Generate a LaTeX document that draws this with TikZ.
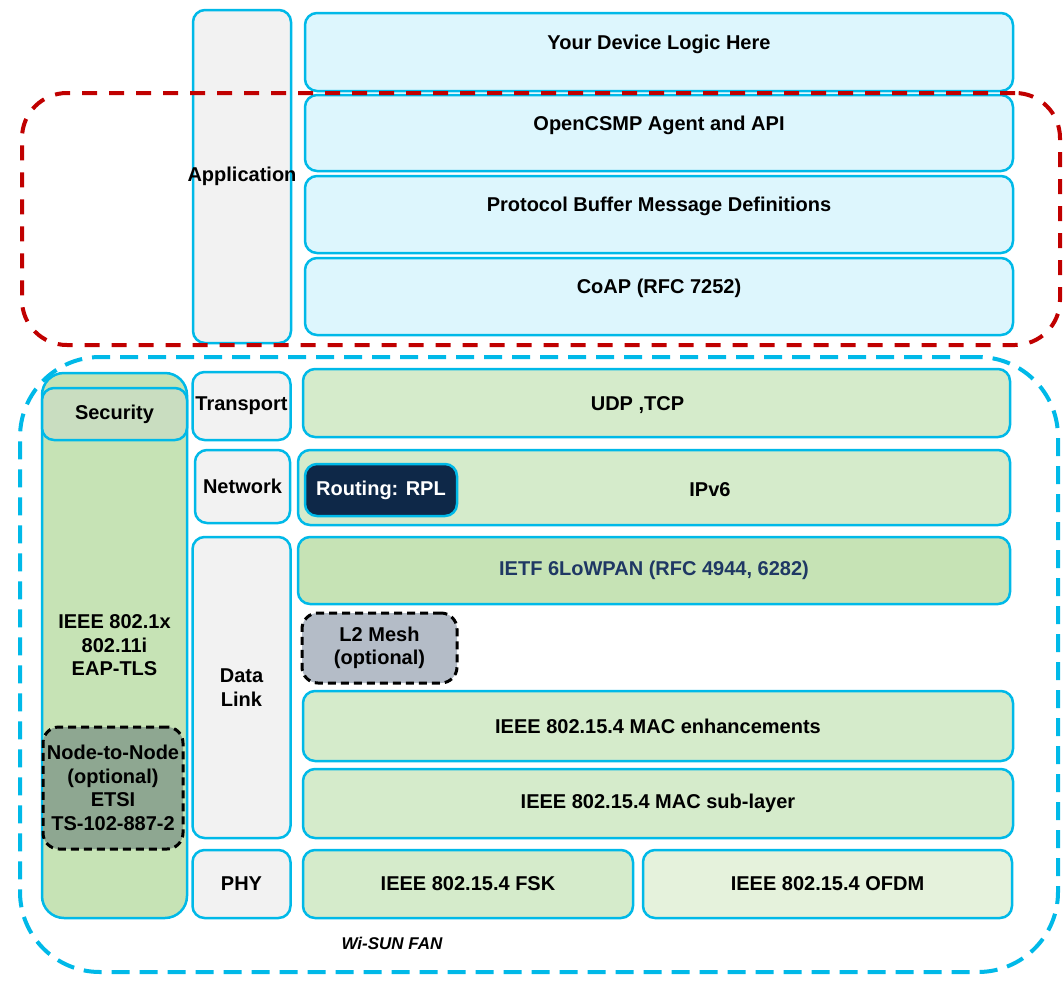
\documentclass[tikz,border=0pt]{standalone}
\usepackage{fontspec}
\setmainfont{Liberation Sans}

\definecolor{wsblue}{RGB}{0,185,232}
\definecolor{wsred}{RGB}{192,0,0}
\definecolor{wsgrey}{RGB}{242,242,242}
\definecolor{wsapp}{RGB}{221,246,253}
\definecolor{wsgreen}{RGB}{213,235,203}
\definecolor{wsgreenB}{RGB}{198,227,181}
\definecolor{wslight}{RGB}{229,242,220}
\definecolor{wssec}{RGB}{201,221,192}
\definecolor{wsnavy}{RGB}{14,40,72}
\definecolor{wstext}{RGB}{31,56,100}
\definecolor{wsmesh}{RGB}{180,188,199}
\definecolor{wsnode}{RGB}{142,167,145}

\tikzset{
  txt/.style={font=\fontsize{20}{23.5}\selectfont\bfseries, align=center},
  layer/.style={txt, draw=wsblue, line width=2.5pt, rounded corners=12pt, inner sep=0pt},
  optbox/.style={txt, draw=black, line width=3pt, dash pattern=on 8pt off 5pt,
    rounded corners=16pt, inner sep=0pt},
  frame/.style={line width=4pt, rounded corners=#1, inner sep=0pt},
}

\begin{document}
\begin{tikzpicture}[x=1pt,y=-1pt]
\useasboundingbox (0,0) rectangle (1063,980);

% layer names
\begin{scope}[every node/.style={layer, fill=wsgrey, minimum width=98pt}]
  \node[minimum height=333pt, label={[txt]center:Application}] (app) at (242,176.5) {};
  \node[minimum height=68pt]  (transport) at (241.5,406)   {Transport};
  \node[minimum height=73pt, minimum width=95pt] (network) at (242.5,486.5) {Network};
  \node[minimum height=301pt] (datalink)  at (241.5,687.5) {Data\\Link};
  \node[minimum height=68pt]  (phy)       at (241.5,884)   {PHY};
\end{scope}

% application stack
\begin{scope}[every node/.style={layer, fill=wsapp, minimum width=708pt}]
  \node[minimum height=78pt, label={[txt, yshift=8pt]center:Your Device Logic Here}] (device) at (659,52) {};
  \node[minimum height=76pt, label={[txt, yshift=8pt]center:OpenCSMP Agent and API}] (agent) at (659,133) {};
  \node[minimum height=77pt, label={[txt, yshift=8pt]center:Protocol Buffer Message Definitions}] (protobuf) at (659,214.5) {};
  \node[minimum height=77pt, label={[txt, yshift=8pt]center:CoAP (RFC 7252)}] (coap) at (659,296.5) {};
\end{scope}

% Wi-SUN FAN stack
\begin{scope}[every node/.style={layer, fill=wsgreen}]
  \node[minimum width=707pt, minimum height=68pt, label={[txt, xshift=-19pt, yshift=-2pt]center:UDP ,TCP}] (udp) at (656.5,403) {};
  \node[minimum width=712pt, minimum height=75pt, label={[txt, xshift=56pt, yshift=-2pt]center:IPv6}] (ipv6) at (654,487.5) {};
  \node[minimum width=152pt, minimum height=52pt, fill=wsnavy, text=white] (rpl) at (381,490) {Routing: RPL};
  \node[minimum width=712pt, minimum height=67pt, fill=wsgreenB, text=wstext] (lowpan) at (654,570.5) {IETF 6LoWPAN (RFC 4944, 6282)};
  \node[minimum width=710pt, minimum height=70pt] (macenh) at (658,726) {IEEE 802.15.4 MAC enhancements};
  \node[minimum width=710pt, minimum height=69pt] (macsub) at (658,803.5) {IEEE 802.15.4 MAC sub-layer};
  \node[minimum width=330pt, minimum height=68pt] (fsk)  at (468,884) {IEEE 802.15.4 FSK};
  \node[minimum width=369pt, minimum height=68pt, fill=wslight] (ofdm) at (827.5,884) {IEEE 802.15.4 OFDM};
\end{scope}
\node[optbox, fill=wsmesh, minimum width=155pt, minimum height=70pt] (mesh) at (379.5,648) {L2 Mesh\\(optional)};

% security column
\node[layer, fill=wsgreenB, rounded corners=22pt, minimum width=145pt, minimum height=545pt] (security) at (114.5,645.5) {IEEE 802.1x\\802.11i\\EAP-TLS};
\node[layer, fill=wssec, minimum width=145pt, minimum height=52pt] (sechead) at (114.5,414) {Security};
\node[optbox, fill=wsnode, minimum width=140pt, minimum height=122pt] (n2n) at (113,788) {Node-to-Node\\(optional)\\ETSI\\TS-102-887-2};

% group frames
\node[frame=45pt, draw=wsred, dash pattern=on 15pt off 12pt, minimum width=1038pt, minimum height=252pt] (csmp) at (541,219) {};
\node[frame=80pt, draw=wsblue, dash pattern=on 18pt off 10pt, minimum width=1038pt, minimum height=615pt] (fan) at (539,664.5) {};
\node[font=\fontsize{17}{20}\selectfont\bfseries\itshape] (fanlabel) at (392,943) {Wi-SUN FAN};

\end{tikzpicture}
\end{document}
